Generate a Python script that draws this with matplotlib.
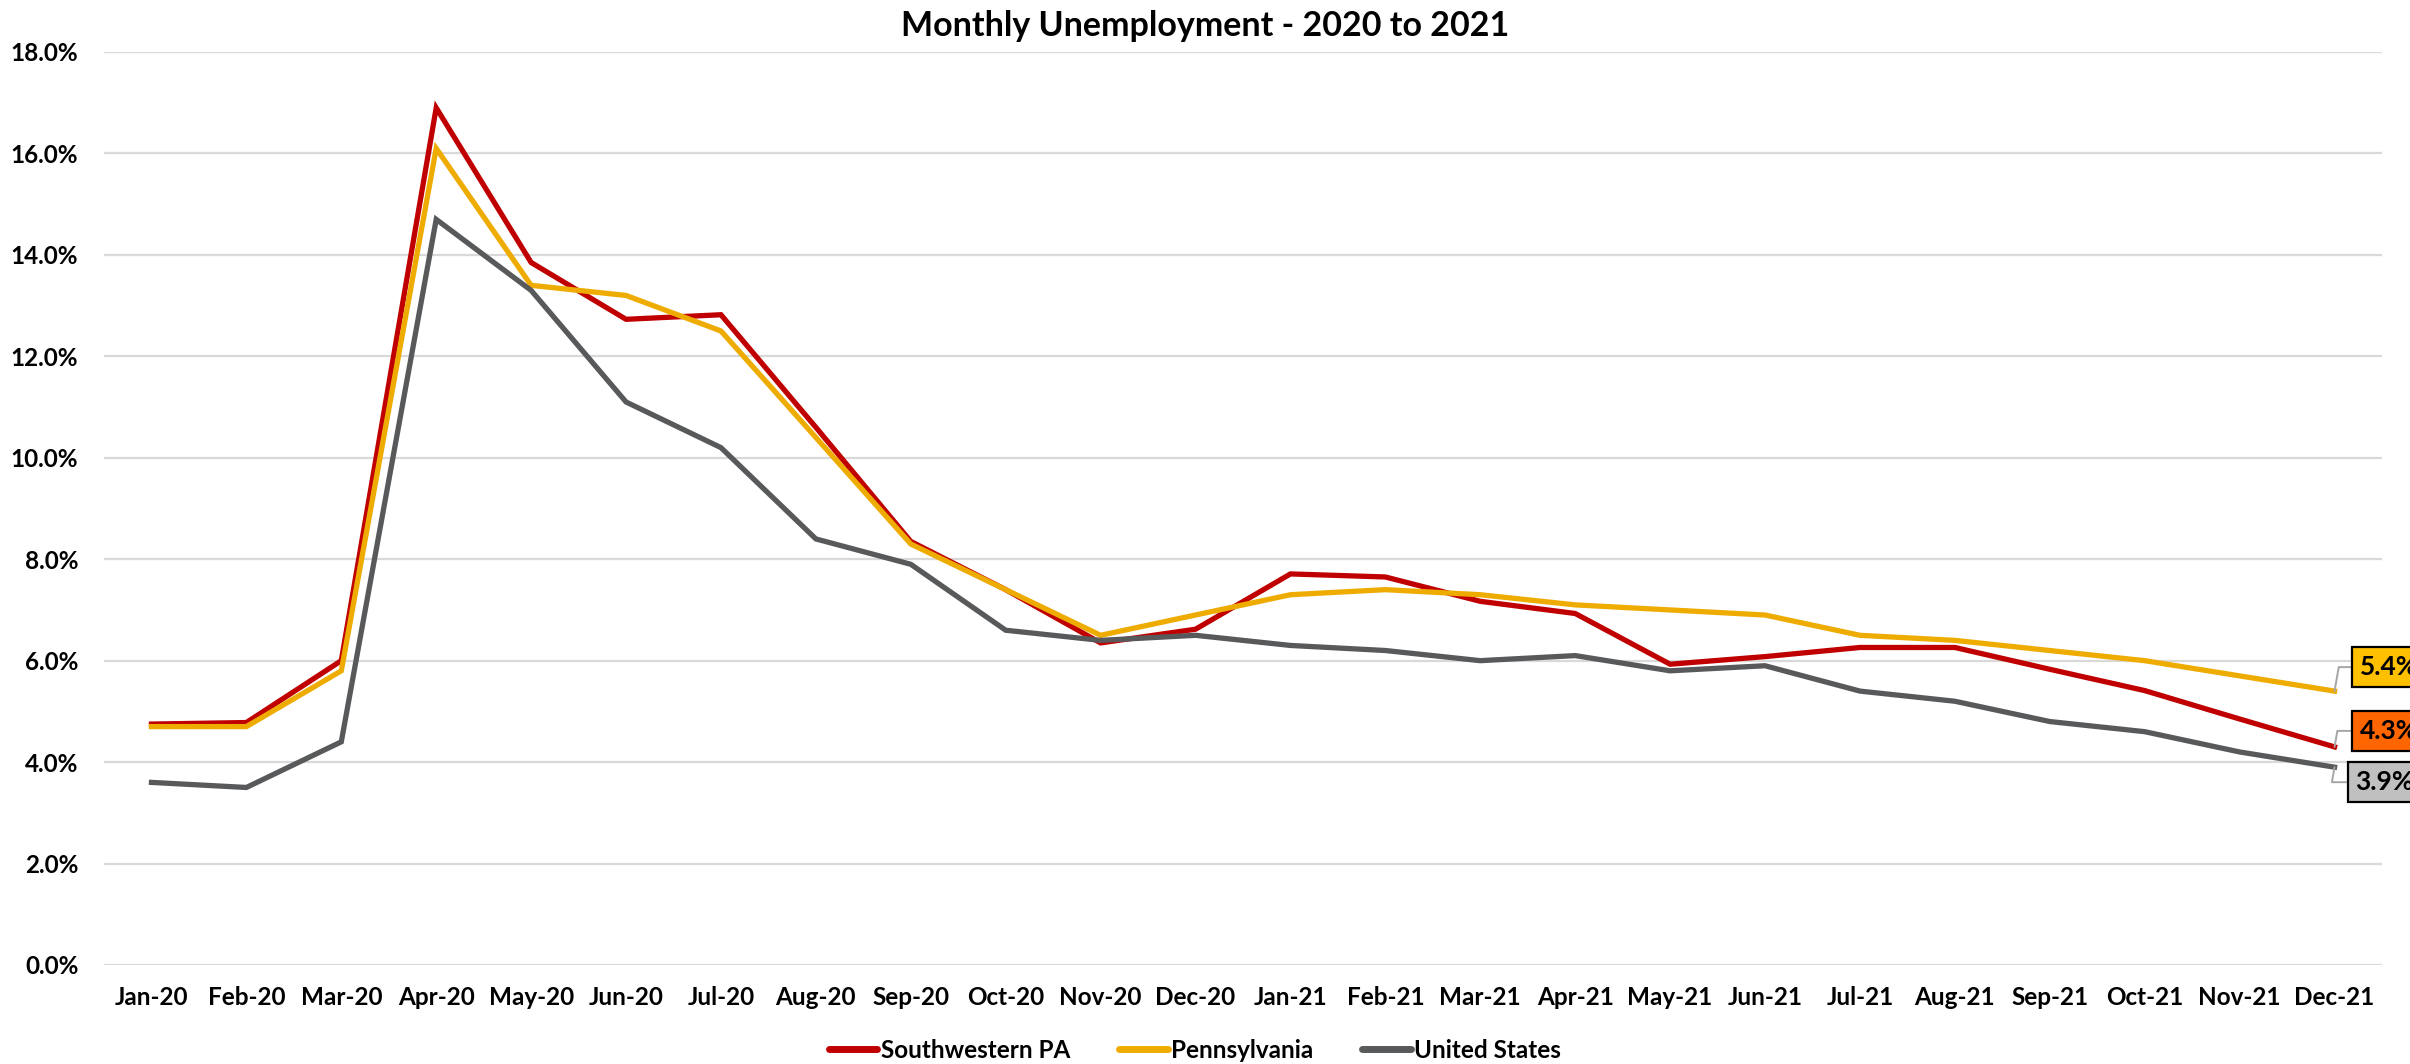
import matplotlib
matplotlib.use("Agg")
import matplotlib.pyplot as plt
import numpy as np

months = ["Jan-20", "Feb-20", "Mar-20", "Apr-20", "May-20", "Jun-20", "Jul-20", "Aug-20",
          "Sep-20", "Oct-20", "Nov-20", "Dec-20", "Jan-21", "Feb-21", "Mar-21", "Apr-21",
          "May-21", "Jun-21", "Jul-21", "Aug-21", "Sep-21", "Oct-21", "Nov-21", "Dec-21"]
swpa = [4.75, 4.78, 6.0, 16.9, 13.85, 12.73, 12.82, 10.6, 8.35, 7.4, 6.35, 6.62,
        7.71, 7.65, 7.17, 6.93, 5.93, 6.08, 6.26, 6.26, 5.83, 5.41, 4.85, 4.3]
penn = [4.7, 4.7, 5.8, 16.1, 13.4, 13.2, 12.5, 10.4, 8.3, 7.4, 6.5, 6.9,
        7.3, 7.4, 7.3, 7.1, 7.0, 6.9, 6.5, 6.4, 6.2, 6.0, 5.7, 5.4]
usa = [3.6, 3.5, 4.4, 14.7, 13.3, 11.1, 10.2, 8.4, 7.9, 6.6, 6.4, 6.5,
       6.3, 6.2, 6.0, 6.1, 5.8, 5.9, 5.4, 5.2, 4.8, 4.6, 4.2, 3.9]
series_names = ["Southwestern PA", "Pennsylvania", "United States"]
yticks = [0, 2, 4, 6, 8, 10, 12, 14, 16, 18]

plt.rcParams['font.family'] = ['Lato', 'DejaVu Sans']
plt.rcParams['font.weight'] = 'bold'

fig = plt.figure(figsize=(24.1, 10.64), dpi=100)
ax = fig.add_axes([104/2410, 1-965/1064, (2382-104)/2410, (965-52)/1064])

x = np.arange(len(months))
colors = ["#C00000", "#EEAB00", "#58595B"]
for vals, name, c in zip([swpa, penn, usa], series_names, colors):
    ax.plot(x, vals, color=c, lw=3.8, label=name, solid_joinstyle='miter', zorder=3)

ax.set_xlim(-0.5, len(months) - 0.5)
ax.set_ylim(0, 18)
ax.set_yticks(yticks)
ax.set_yticklabels([f"{v:.1f}%" for v in yticks])
ax.set_xticks(x)
ax.set_xticklabels(months)
ax.grid(axis='y', color='#D9D9D9', lw=1.6, zorder=0)
ax.set_axisbelow(True)
for s in ax.spines.values():
    s.set_visible(False)
ax.tick_params(axis='both', length=0, labelsize=17.5, colors='black')
ax.tick_params(axis='y', pad=18.5)
ax.tick_params(axis='x', pad=15)
for lbl in ax.get_xticklabels() + ax.get_yticklabels():
    lbl.set_fontweight('bold')

fig.text(0.5, 1-26/1064, "Monthly Unemployment - 2020 to 2021", ha='center', va='center',
         fontsize=24.5, fontweight='bold')

# end labels
box_colors = ["#FF6600", "#FFC000", "#C0C0C0"]
offsets = [(25, 16), (25, 24), (21, -15)]
for vals, bc, off in zip([swpa, penn, usa], box_colors, offsets):
    ax.annotate(f"{vals[-1]:.1f}%", xy=(x[-1], vals[-1]), xytext=off,
                textcoords='offset pixels', ha='left', va='center',
                fontsize=19, fontweight='bold', annotation_clip=False,
                bbox=dict(boxstyle='square,pad=0.3', fc=bc, ec='black', lw=1.6),
                arrowprops=dict(arrowstyle='-', color='#A6A6A6', lw=1.4,
                                shrinkA=0, shrinkB=0, relpos=(0, 0.5),
                                connectionstyle='angle,angleA=0,angleB=80,rad=0'),
                zorder=5)

leg = fig.legend(*ax.get_legend_handles_labels(), loc='center', bbox_to_anchor=(1195/2410, 1-1050/1064),
                 ncol=3, frameon=False, fontsize=17.5, handlelength=2.0, handletextpad=0.15,
                 columnspacing=2.0)
for t in leg.get_texts():
    t.set_fontweight('bold')
for h in leg.get_lines():
    h.set_linewidth(5)
    h.set_solid_capstyle('round')

fig.savefig("out.png", dpi=100)
